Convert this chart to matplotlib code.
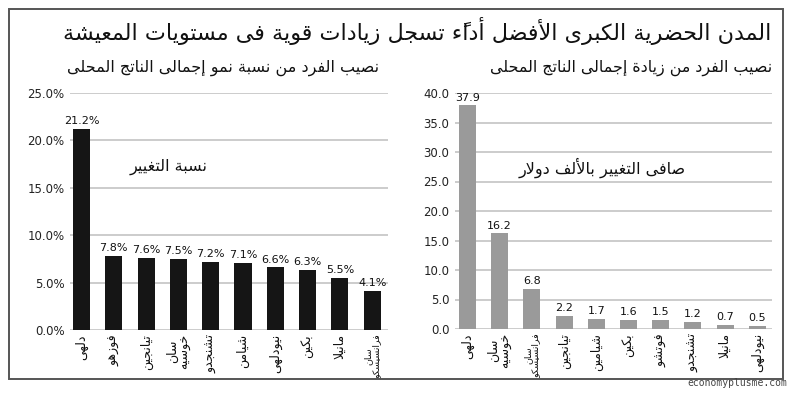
import matplotlib
matplotlib.use("Agg")
import matplotlib.pyplot as plt
from matplotlib.patches import Rectangle

# -------- data --------
title = "المدن الحضرية الكبرى الأفضل أداءً تسجل زيادات قوية فى مستويات المعيشة"
sub_left = "نصيب الفرد من نسبة نمو إجمالى الناتج المحلى"
sub_right = "نصيب الفرد من زيادة إجمالى الناتج المحلى"
note_left = "نسبة التغيير"
note_right = "صافى التغيير بالألف دولار"

cities_left = ["دلهى", "فوزهو", "تيانجين", "سان خوسيه", "تشنجدو",
               "شيامن", "نيودلهى", "بكين", "مانيلا", "سان فرانسيسكو"]
growth_pct = [21.2, 7.8, 7.6, 7.5, 7.2, 7.1, 6.6, 6.3, 5.5, 4.1]
ticks_left = [0, 5, 10, 15, 20, 25]

cities_right = ["دلهى", "سان خوسيه", "سان فرانسيسكو", "تيانجين", "شيامين",
                "بكين", "فوتشو", "تشنجدو", "مانيلا", "نيودلهى"]
change_k = [37.9, 16.2, 6.8, 2.2, 1.7, 1.6, 1.5, 1.2, 0.7, 0.5]
ticks_right = [0, 5, 10, 15, 20, 25, 30, 35, 40]


# -------- small arabic shaper (matplotlib has no shaping) --------
FOUR = {'ئ': 0xFE89, 'ب': 0xFE8F, 'ت': 0xFE95, 'ث': 0xFE99, 'ج': 0xFE9D,
        'ح': 0xFEA1, 'خ': 0xFEA5, 'س': 0xFEB1, 'ش': 0xFEB5, 'ص': 0xFEB9,
        'ض': 0xFEBD, 'ط': 0xFEC1, 'ظ': 0xFEC5, 'ع': 0xFEC9, 'غ': 0xFECD,
        'ف': 0xFED1, 'ق': 0xFED5, 'ك': 0xFED9, 'ل': 0xFEDD, 'م': 0xFEE1,
        'ن': 0xFEE5, 'ه': 0xFEE9, 'ي': 0xFEF1}
TWO = {'آ': 0xFE81, 'أ': 0xFE83, 'ؤ': 0xFE85, 'إ': 0xFE87, 'ا': 0xFE8D,
       'ة': 0xFE93, 'د': 0xFEA9, 'ذ': 0xFEAB, 'ر': 0xFEAD, 'ز': 0xFEAF,
       'و': 0xFEED, 'ى': 0xFEEF}
LAMALEF = {'آ': 0xFEF5, 'أ': 0xFEF7, 'إ': 0xFEF9, 'ا': 0xFEFB}
MARKS = set(chr(c) for c in range(0x064B, 0x0653))


def joins(c):
    return c in FOUR or c in TWO


def shape(txt):
    # split into clusters (letter + marks)
    cl = []
    for ch in txt:
        if ch in MARKS and cl:
            cl[-1][1] += ch
        else:
            cl.append([ch, ""])
    out = []
    i = 0
    n = len(cl)
    while i < n:
        c, m = cl[i]
        prev = cl[i - 1][0] if i > 0 else None
        nxt = cl[i + 1][0] if i + 1 < n else None
        link_prev = prev in FOUR and joins(c) and out and out[-1][2]
        if c == 'ل' and nxt in LAMALEF:
            base = LAMALEF[nxt]
            g = chr(base + 1) if link_prev else chr(base)
            out.append([g, m + cl[i + 1][1], False])
            i += 2
            continue
        if c in FOUR:
            link_next = nxt is not None and joins(nxt)
            b = FOUR[c]
            if link_prev and link_next:
                g = chr(b + 3)
            elif link_prev:
                g = chr(b + 1)
            elif link_next:
                g = chr(b + 2)
            else:
                g = chr(b)
            out.append([g, m, link_next])
        elif c in TWO:
            b = TWO[c]
            g = chr(b + 1) if link_prev else chr(b)
            out.append([g, m, False])
        else:
            out.append([c, m, False])
        i += 1
    return "".join(g + mk for g, mk, _ in reversed(out))


def city_label(name):
    # two word names would run past the frame, wrap them
    if " " in name:
        return "\n".join(shape(w) for w in name.split(" "))
    return shape(name)


W, H = 800, 396
fig = plt.figure(figsize=(W / 100, H / 100), dpi=100)
fig.patch.set_facecolor("white")
AR = "DejaVu Sans"
renderer = fig.canvas.get_renderer()


def px(x, y):
    return x / W, 1 - y / H


def fit_text(s, x0, x1, yc, size):
    t = fig.text(*px((x0 + x1) / 2, yc), shape(s), ha="center", va="center",
                 fontsize=size, family=AR, color="#111111")
    w = t.get_window_extent(renderer).width
    t.set_fontsize(size * (x1 - x0) / w)
    return t


# frame
fig.patches.append(Rectangle(px(9, 379), 774 / W, 370 / H, transform=fig.transFigure,
                             fill=False, edgecolor="#555555", lw=1.4))

fit_text(title, 62, 773, 31, 16)
fit_text(sub_left, 68, 378, 68, 10)
fit_text(sub_right, 490, 773, 68, 10)


def panel(x0, x1, top, base, cats, vals, ticks, color, fmt_tick, fmt_val, xoff, step):
    ax = fig.add_axes([x0 / W, 1 - base / H, (x1 - x0) / W, (base - top) / H])
    xs = list(range(len(vals)))
    ax.bar(xs, vals, width=0.53, color=color, zorder=3)
    ax.set_ylim(0, ticks[-1])
    ax.set_xlim((x0 - xoff) / step, (x1 - xoff) / step)
    ax.set_yticks(ticks)
    ax.set_yticklabels([fmt_tick(v) for v in ticks], fontsize=8.5, color="#222222")
    ax.set_xticks(xs)
    labels = ax.set_xticklabels([city_label(c) for c in cats], rotation=90, fontsize=9,
                                family=AR, color="#111111", va="top",
                                multialignment="center", linespacing=0.95)
    for lab in labels:
        h = lab.get_window_extent(renderer).height
        if h > 45:
            lab.set_fontsize(9 * 45 / h)
    ax.tick_params(length=0, pad=3)
    ax.tick_params(axis="y", pad=4)
    for s in ax.spines.values():
        s.set_visible(False)
    ax.yaxis.grid(True, color="#cccccc", lw=1.4, zorder=0)
    ax.set_axisbelow(True)
    for x, v in zip(xs, vals):
        ax.text(x, v + ticks[-1] * 0.012, fmt_val(v), ha="center", va="bottom",
                fontsize=8, color="#111111")
    return ax


axl = panel(70, 388, 93, 330, cities_left, growth_pct, ticks_left, "#151515",
            lambda v: f"{v:.1f}%", lambda v: f"{v:.1f}%", 81.5, 32.3)
axr = panel(455, 772, 93, 329, cities_right, change_k, ticks_right, "#9a9a9a",
            lambda v: f"{v:.1f}", lambda v: f"{v:.1f}", 467.5, 32.2)

fig.text(*px(169, 167), shape(note_left), ha="center", va="center",
         fontsize=11.5, family=AR, color="#111111")
fig.text(*px(602, 168), shape(note_right), ha="center", va="center",
         fontsize=11.5, family=AR, color="#111111")

fig.text(*px(737, 383), "economyplusme.com", ha="center", va="center",
         fontsize=7, family="DejaVu Sans Mono", color="#444444")

fig.savefig("out.png", dpi=100, facecolor="white")
